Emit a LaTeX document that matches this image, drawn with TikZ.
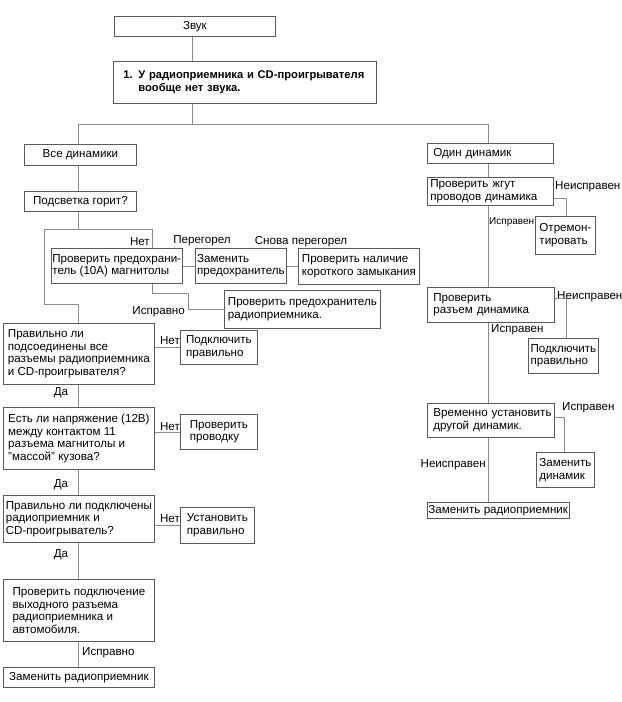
\documentclass[tikz,border=0pt]{standalone}
\usepackage{fontspec}
\setmainfont{Liberation Sans}
\newcommand\fs{\fontsize{11.6bp}{12.5bp}\selectfont}
\newcommand\fsb{\fontsize{11.2bp}{12.5bp}\selectfont\bfseries}
\newcommand\fsm{\fontsize{10bp}{11bp}\selectfont}
\definecolor{boxc}{HTML}{5A5A5A}
\definecolor{linec}{HTML}{8C8C8C}
\tikzset{
  box/.style={draw=boxc, line width=0.8bp, fill=white, inner xsep=1bp, inner ysep=1bp,
              anchor=north west, align=left, font=\fs},
  lbl/.style={inner sep=0pt, font=\fs},
  conn/.style={draw=linec, line width=0.8bp},
}
\begin{document}
\begin{tikzpicture}[x=1bp,y=-1bp]
\useasboundingbox[fill=white] (0,0) rectangle (622,702);
% ---- nodes, left column
\node[box, minimum width=161bp, minimum height=20bp] (zvuk) at (114,16) {Звук};
\node[box, inner xsep=10bp, text width=243bp, minimum height=42bp, font=\fsb] (q1) at (113,61)
  {\mbox{1. У радиоприемника и CD-проигрывателя}\\\mbox{\phantom{1. }вообще нет звука.}};
\node[box, minimum width=112bp, minimum height=21bp] (vse) at (24,144) {Все динамики};
\node[box, minimum width=112bp, minimum height=20bp] (podsv) at (24,191) {Подсветка горит?};
\node[box, minimum width=130bp, minimum height=35bp] (fuse) at (51,248) {Проверить предохрани-\\тель (10А) магнитолы};
\node[box, minimum width=91bp, minimum height=35bp] (zamen) at (195,248) {Заменить\\предохранитель};
\node[box, minimum width=121bp, minimum height=36bp] (kz) at (298,248) {Проверить наличие\\короткого замыкания};
\node[box, minimum width=156bp, minimum height=38bp] (fuse2) at (224,290) {Проверить предохранитель\\радиоприемника.};
\node[box, minimum width=151bp, minimum height=61bp] (prav1) at (3,323)
  {Правильно ли\\подсоединены все\\разъемы радиоприемника\\и CD-проигрывателя?};
\node[box, minimum width=77bp, minimum height=34bp] (podkl1) at (180,330) {Подключить\\правильно};
\node[box, minimum width=151bp, minimum height=62bp] (napr) at (3,407)
  {Есть ли напряжение (12В)\\между контактом 11\\разъема магнитолы и\\"массой" кузова?};
\node[box, minimum width=77bp, minimum height=35bp] (provod) at (180,414) {Проверить\\проводку};
\node[box, minimum width=151bp, minimum height=47bp] (prav2) at (3,495)
  {Правильно ли подключены\\радиоприемник и\\CD-проигрыватель?};
\node[box, minimum width=74bp, minimum height=36bp] (ustan) at (180,507) {Установить\\правильно};
\node[box, minimum width=151bp, minimum height=62bp] (provpodk) at (3,579)
  {Проверить подключение\\выходного разъема\\радиоприемника и\\автомобиля.};
\node[box, minimum width=151bp, minimum height=20bp] (zamrad1) at (3,667) {Заменить радиоприемник};
% ---- nodes, right column
\node[box, inner xsep=6bp, text width=114bp, minimum height=20bp] (odin) at (427,143) {\mbox{Один динамик}};
\node[box, inner xsep=3bp, text width=120bp, minimum height=28bp] (zhgut) at (427,177) {\mbox{Проверить жгут}\\\mbox{проводов динамика}};
\node[box, minimum width=60bp, minimum height=38bp] (otrem) at (535,216) {Отремон-\\тировать};
\node[box, inner xsep=6bp, text width=115bp, minimum height=35bp] (razem) at (427,287) {\mbox{Проверить}\\\mbox{разъем динамика}};
\node[box, minimum width=70bp, minimum height=35bp] (podkl2) at (528,338) {Подключить\\правильно};
\node[box, inner xsep=6bp, text width=115bp, minimum height=34bp] (vremen) at (427,403) {\mbox{Временно установить}\\\mbox{другой динамик.}};
\node[box, minimum width=58bp, minimum height=35bp] (zamdin) at (536,452) {Заменить\\динамик};
\node[box, minimum width=141bp, minimum height=16bp] (zamrad2) at (427,502) {Заменить радиоприемник};
% ---- labels
\node[lbl, anchor=east] (lnet0) at (150,242) {Нет};
\node[lbl] (lpereg) at (202,241) {Перегорел};
\node[lbl] (lsnova) at (301,242) {Снова перегорел};
\node[lbl, anchor=east] (lisp0) at (185,312) {Исправно};
\node[lbl] (lnet1) at (170,341) {Нет};
\node[lbl] (lnet2) at (170,427) {Нет};
\node[lbl] (lnet3) at (170,519) {Нет};
\node[lbl] (lda1) at (61,393) {Да};
\node[lbl] (lda2) at (61,485) {Да};
\node[lbl] (lda3) at (61,555) {Да};
\node[lbl, anchor=west] (lisp4) at (82,653) {Исправно};
\node[lbl, anchor=west] (lneis1) at (555,187) {Неисправен};
\node[lbl, anchor=west, font=\fsm] (lisp1) at (489,222) {Исправен};
\node[lbl, anchor=west] (lneis2) at (557,297) {Неисправен};
\node[lbl, anchor=west] (lisp2) at (491,330) {Исправен};
\node[lbl, anchor=west] (lisp3) at (562,408) {Исправен};
\node[lbl, anchor=east] (lneis3) at (486,465) {Неисправен};
% ---- helper coordinates
\coordinate (t1) at (192,124);
\coordinate (L) at (78,124);
\coordinate (R) at (488,124);
\coordinate (frTL) at (44,229);
\coordinate (frR) at (152,229);
\coordinate (frB) at (44,304);
\coordinate (jB) at (78,304);
\coordinate (isp) at (188,293);
\coordinate (b1) at (566,198);
\coordinate (b2) at (566,298);
\coordinate (b3) at (564,417);
% ---- connectors
\draw[conn] (zvuk.south -| t1) -- (q1.north -| t1);
\draw[conn] (q1.south -| t1) -- (t1);
\draw[conn] (vse.north -| L) -- (L) -- (R) -- (odin.north -| R);
\draw[conn] (vse.south -| L) -- (podsv.north -| L);
\draw[conn] (podsv.south -| L) -- (L |- frTL);
\draw[conn] (fuse.north -| frR) -- (frR) -- (frTL) -- (frB) -- (jB) -- (prav1.north -| jB);
\draw[conn] (fuse.south -| frR) -- (frR |- isp) -- (isp) |- (fuse2.west);
\draw[conn] (fuse.east) -- (zamen.west);
\draw[conn] (zamen.east) -- (zamen.east -| kz.west);
\draw[conn] (prav1.south -| L) -- (napr.north -| L);
\draw[conn] (napr.south -| L) -- (prav2.north -| L);
\draw[conn] (prav2.south -| L) -- (provpodk.north -| L);
\draw[conn] (provpodk.south -| L) -- (zamrad1.north -| L);
\draw[conn] (podkl1.west -| prav1.east) -- (podkl1.west);
\draw[conn] (provod.west -| napr.east) -- (provod.west);
\draw[conn] (ustan.west -| prav2.east) -- (ustan.west);
\draw[conn] (odin.south -| R) -- (zhgut.north -| R);
\draw[conn] (zhgut.south -| R) -- (razem.north -| R);
\draw[conn] (razem.south -| R) -- (vremen.north -| R);
\draw[conn] (vremen.south -| R) -- (zamrad2.north -| R);
\draw[conn] (zhgut.east |- b1) -- (b1) -- (otrem.north -| b1);
\draw[conn] (razem.east |- b2) -- (b2) -- (podkl2.north -| b2);
\draw[conn] (vremen.east |- b3) -- (b3) -- (zamdin.north -| b3);
\end{tikzpicture}
\end{document}
